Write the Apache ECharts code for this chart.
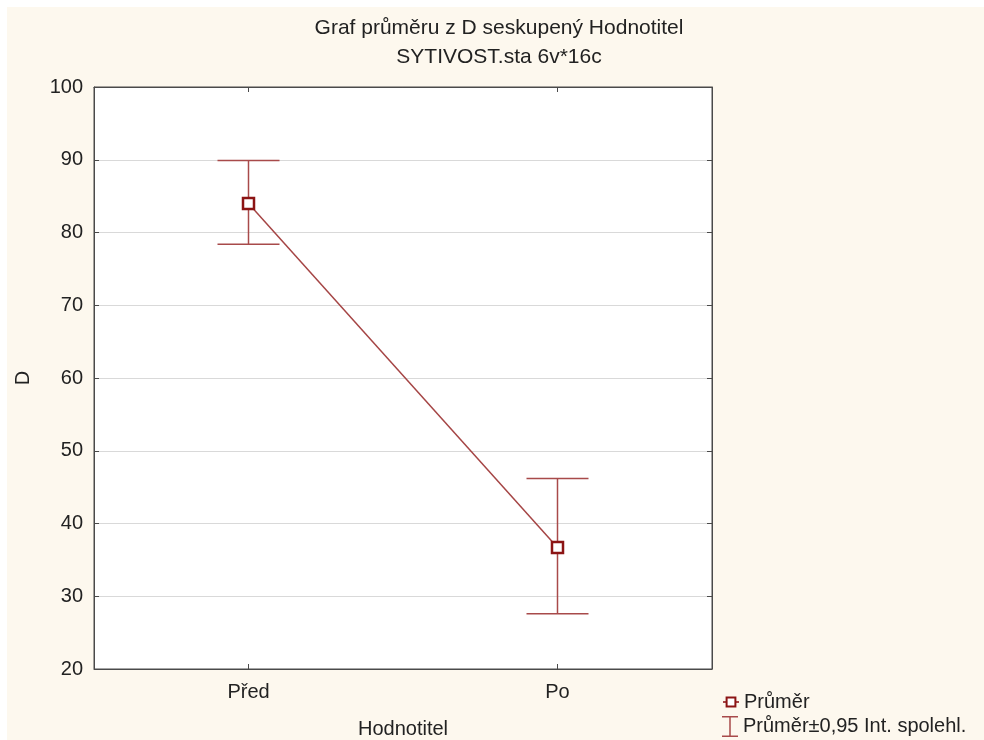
<!DOCTYPE html>
<html>
<head>
<meta charset="utf-8">
<script src="https://cdn.jsdelivr.net/npm/echarts@6/dist/echarts.min.js"></script>
<style>
html,body{margin:0;padding:0;background:#ffffff;}
#chart{width:984px;height:740px;}
</style>
</head>
<body>
<div id="chart"></div>
<script>
const titleText = 'Graf průměru z D seskupený Hodnotitel';
const subtitleText = 'SYTIVOST.sta 6v*16c';
const categories = ['Před', 'Po'];
const means = [84.0, 36.7];
const upperCI = [89.9, 46.2];
const lowerCI = [78.4, 27.6];
const yTicks = [20, 30, 40, 50, 60, 70, 80, 90, 100];
const xAxisName = 'Hodnotitel';
const yAxisName = 'D';
const meanName = 'Průměr';
const ciName = 'Průměr±0,95 Int. spolehl.';

const FONT = "'Liberation Sans', Arial, sans-serif";
const TXT = '#222222';
const ERR = '#a84a4a';
const LINE = '#a54545';
const MARK = '#8c1414';

const chart = echarts.init(document.getElementById('chart'));

const ciData = categories.map((c, i) => [i, lowerCI[i], upperCI[i]]);

const option = {
  backgroundColor: '#ffffff',
  animation: false,
  textStyle: { fontFamily: FONT },
  title: [{
    text: titleText,
    subtext: subtitleText,
    left: 494,
    top: 13,
    textAlign: 'center',
    itemGap: 8,
    textStyle: { fontFamily: FONT, fontSize: 21, fontWeight: 'normal', color: TXT },
    subtextStyle: { fontFamily: FONT, fontSize: 21, color: TXT }
  }],
  graphic: [{
    type: 'rect',
    z: -10,
    silent: true,
    shape: { x: 7, y: 7, width: 984, height: 740 },
    style: { fill: '#fdf8ee' }
  }],
  legend: [{
    data: [meanName],
    orient: 'vertical',
    left: 722,
    top: 692,
    padding: 0,
    itemWidth: 16,
    itemHeight: 11,
    textStyle: { fontFamily: FONT, fontSize: 20, color: TXT }
  }, {
    data: [{ name: ciName, icon: 'path://M0,0h16v1.5h-16z M7.25,0h1.5v21h-1.5z M0,19.5h16v1.5h-16z' }],
    orient: 'vertical',
    left: 722,
    top: 716,
    padding: 0,
    itemWidth: 16,
    itemHeight: 21,
    textStyle: { fontFamily: FONT, fontSize: 20, color: TXT }
  }],
  grid: {
    left: 94,
    top: 87,
    right: 272,
    bottom: 71,
    outerBoundsMode: 'none',
    containLabel: false,
    show: true,
    backgroundColor: '#ffffff',
    borderColor: '#4a4a4a',
    borderWidth: 1
  },
  xAxis: [{
    type: 'category',
    data: categories,
    position: 'bottom',
    boundaryGap: true,
    name: xAxisName,
    nameLocation: 'middle',
    nameGap: 50,
    nameTextStyle: { fontFamily: FONT, fontSize: 20, color: TXT },
    axisLine: { show: true, lineStyle: { color: '#4a4a4a', width: 1 } },
    axisTick: { show: true, inside: true, alignWithLabel: true, length: 5, lineStyle: { color: '#4a4a4a' } },
    axisLabel: { fontFamily: FONT, fontSize: 20, color: TXT, margin: 13 },
    splitLine: { show: false }
  }, {
    type: 'category',
    data: categories,
    position: 'top',
    boundaryGap: true,
    axisLine: { show: true, lineStyle: { color: '#4a4a4a', width: 1 } },
    axisTick: { show: true, inside: true, alignWithLabel: true, length: 5, lineStyle: { color: '#4a4a4a' } },
    axisLabel: { show: false },
    splitLine: { show: false }
  }],
  yAxis: [{
    type: 'value',
    min: yTicks[0],
    max: yTicks[yTicks.length - 1],
    interval: 10,
    position: 'left',
    name: yAxisName,
    nameLocation: 'middle',
    nameGap: 61,
    nameRotate: 90,
    nameTextStyle: { fontFamily: FONT, fontSize: 20, color: TXT },
    axisLine: { show: true, lineStyle: { color: '#4a4a4a', width: 1 } },
    axisTick: { show: true, inside: true, length: 5, lineStyle: { color: '#4a4a4a' } },
    axisLabel: { fontFamily: FONT, fontSize: 20, color: TXT, margin: 11 },
    splitLine: { show: true, lineStyle: { color: '#d9d9d9', width: 1 } }
  }, {
    type: 'value',
    min: yTicks[0],
    max: yTicks[yTicks.length - 1],
    interval: 10,
    position: 'right',
    axisLine: { show: true, lineStyle: { color: '#4a4a4a', width: 1 } },
    axisTick: { show: true, inside: true, length: 5, lineStyle: { color: '#4a4a4a' } },
    axisLabel: { show: false },
    splitLine: { show: false }
  }],
  series: [{
    name: ciName,
    type: 'custom',
    xAxisIndex: 0,
    yAxisIndex: 0,
    z: 2,
    itemStyle: { color: ERR },
    data: ciData,
    renderItem: function (params, api) {
      const x = api.value(0);
      const lo = api.coord([x, api.value(1)]);
      const hi = api.coord([x, api.value(2)]);
      const hw = 31;
      const style = { stroke: ERR, lineWidth: 1.5, fill: null };
      return {
        type: 'group',
        children: [
          { type: 'line', shape: { x1: hi[0], y1: hi[1], x2: lo[0], y2: lo[1] }, style: style },
          { type: 'line', shape: { x1: hi[0] - hw, y1: hi[1], x2: hi[0] + hw, y2: hi[1] }, style: style },
          { type: 'line', shape: { x1: lo[0] - hw, y1: lo[1], x2: lo[0] + hw, y2: lo[1] }, style: style }
        ]
      };
    }
  }, {
    name: meanName,
    type: 'line',
    xAxisIndex: 0,
    yAxisIndex: 0,
    z: 3,
    data: means,
    symbol: 'rect',
    symbolSize: 11,
    showAllSymbol: true,
    lineStyle: { color: LINE, width: 1.5 },
    itemStyle: { color: '#ffffff', borderColor: MARK, borderWidth: 2.5 }
  }]
};

chart.setOption(option);
</script>
</body>
</html>
